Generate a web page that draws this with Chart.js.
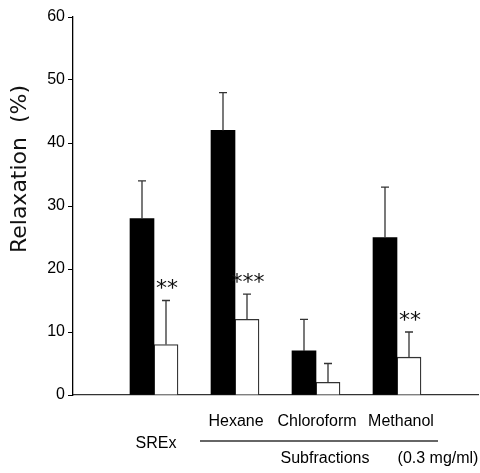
<!DOCTYPE html>
<html>
<head>
<meta charset="utf-8">
<script src="https://cdn.jsdelivr.net/npm/chart.js@4.4.1/dist/chart.umd.min.js"></script>
<style>
  html, body { margin: 0; padding: 0; background: #fff; }
  canvas { display: block; }
</style>
</head>
<body>
<canvas id="chart" width="480" height="473"></canvas>
<script>
// Relaxation (%) for each extract, mean and upper SEM
const categories = ['', 'SREx', 'Hexane', 'Chloroform', 'Methanol', ''];
const blackValues = [null, 28, 42, 7, 25, null];
const blackErrors = [null, 6, 6, 5, 8, null];
const whiteValues = [null, 8, 12, 2, 6, null];
const whiteErrors = [null, 7, 4, 3, 4, null];
const whiteStars = [null, '**', '***', null, '**', null];
const yTicks = [0, 10, 20, 30, 40, 50, 60];

const LABEL_FONT = '16px "Liberation Sans", Arial, sans-serif';
const labelShift = [0, 2, 1, 1, 4, 0];

// Draws error bars, significance stars and the group labels under the axis
const annotations = {
  id: 'annotations',
  afterDatasetsDraw(chart) {
    const { ctx } = chart;
    const y = chart.scales.y;
    const errs = [blackErrors, whiteErrors];
    ctx.save();
    ctx.strokeStyle = '#333';
    ctx.lineWidth = 1.3;
    chart.data.datasets.forEach((ds, di) => {
      chart.getDatasetMeta(di).data.forEach((bar, i) => {
        if (ds.data[i] == null) return;
        const top = y.getPixelForValue(ds.data[i] + errs[di][i]);
        ctx.beginPath();
        ctx.moveTo(bar.x, bar.y);
        ctx.lineTo(bar.x, top);
        ctx.moveTo(bar.x - 4, top);
        ctx.lineTo(bar.x + 4, top);
        ctx.stroke();
        if (di === 1 && whiteStars[i]) {
          ctx.fillStyle = '#111';
          ctx.font = '22px "DejaVu Sans", sans-serif';
          ctx.textAlign = 'center';
          ctx.textBaseline = 'middle';
          ctx.fillText(whiteStars[i], bar.x + 1, top - 11);
        }
      });
    });
    ctx.restore();
  },
  afterDraw(chart) {
    const { ctx } = chart;
    const x = chart.scales.x;
    ctx.save();
    ctx.fillStyle = '#000';
    ctx.font = LABEL_FONT;
    ctx.textAlign = 'center';
    ctx.textBaseline = 'middle';
    ctx.fillText(categories[1], x.getPixelForValue(1) + labelShift[1], 444);
    for (let i = 2; i <= 4; i++) {
      ctx.fillText(categories[i], x.getPixelForValue(i) + labelShift[i], 422);
    }
    // bracket line for the subfractions
    ctx.strokeStyle = '#333';
    ctx.lineWidth = 1.3;
    ctx.beginPath();
    ctx.moveTo(x.getPixelForValue(2) - 35, 441);
    ctx.lineTo(x.getPixelForValue(4) + 41, 441);
    ctx.stroke();
    ctx.fillText('Subfractions', 325, 459);
    ctx.fillText('(0.3 mg/ml)', 438, 459);

    // y axis title
    ctx.translate(20, 169);
    ctx.rotate(-Math.PI / 2);
    ctx.fillStyle = '#111';
    ctx.font = '22px "DejaVu Sans", sans-serif';
    ctx.fillText('Relaxation  (%)', 0, 0);
    ctx.restore();
  }
};

new Chart(document.getElementById('chart'), {
  type: 'bar',
  data: {
    labels: categories,
    datasets: [
      {
        data: blackValues,
        backgroundColor: '#000',
        borderColor: '#000',
        borderWidth: 0
      },
      {
        data: whiteValues,
        backgroundColor: '#fff',
        borderColor: '#333',
        borderWidth: 1.3
      }
    ]
  },
  options: {
    responsive: false,
    animation: false,
    layout: { padding: { top: 17, right: 2, left: 0, bottom: 0 } },
    datasets: { bar: { barThickness: 24 } },
    plugins: {
      legend: { display: false },
      tooltip: { enabled: false }
    },
    scales: {
      x: {
        offset: false,
        grid: { display: false },
        border: { display: true, color: '#333', width: 1.3 },
        ticks: { display: false },
        afterFit(scale) { scale.height = 78; }
      },
      y: {
        min: 0,
        max: 60,
        afterBuildTicks(scale) { scale.ticks = yTicks.map(v => ({ value: v })); },
        grid: { display: true, drawOnChartArea: false, drawTicks: true, tickLength: 5, color: '#000' },
        border: { display: true, color: '#000', width: 1.3 },
        ticks: {
          color: '#000',
          padding: 3,
          font: { family: '"Liberation Sans", Arial, sans-serif', size: 16 }
        },
        afterFit(scale) { scale.width = 73; }
      }
    }
  },
  plugins: [annotations]
});
</script>
</body>
</html>
